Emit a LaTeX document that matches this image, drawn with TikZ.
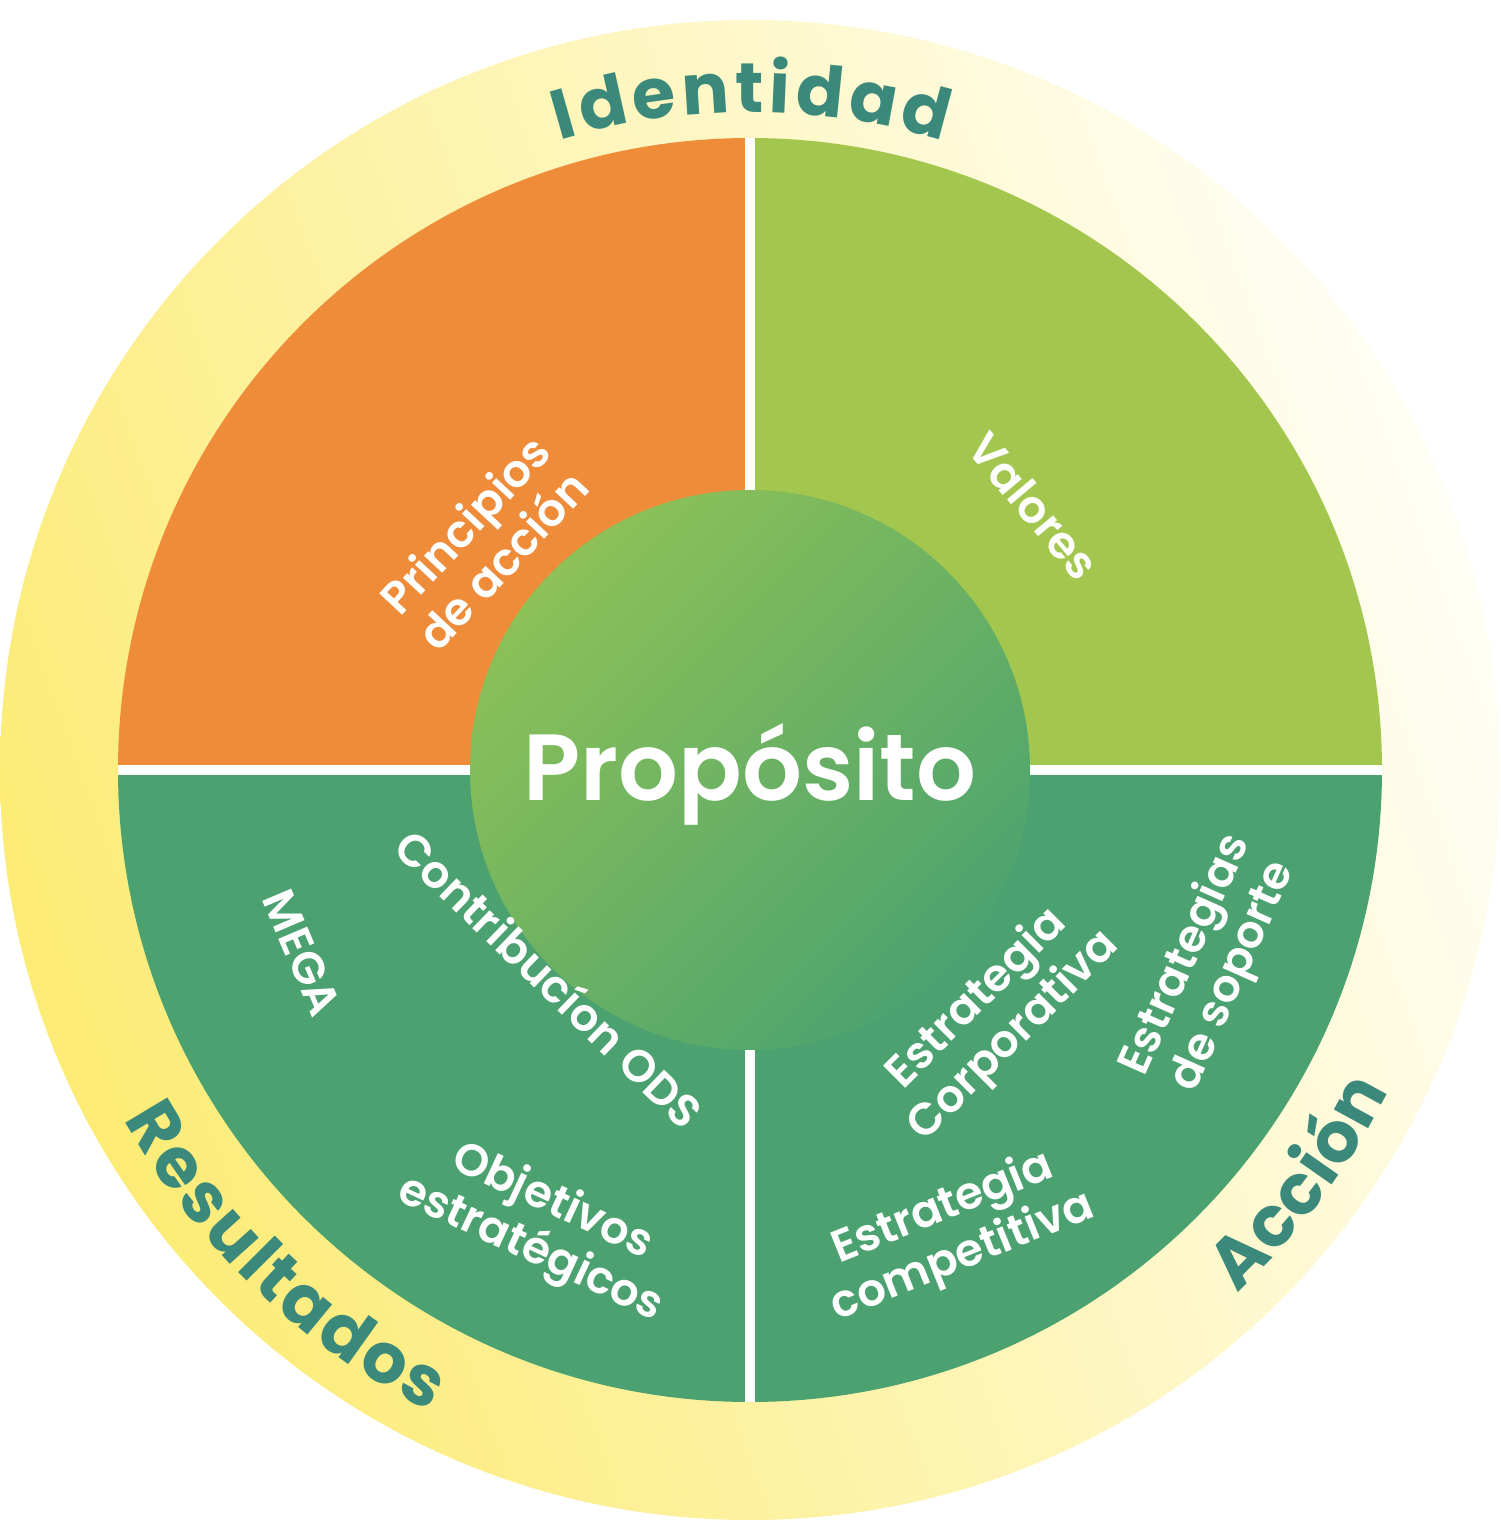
\documentclass[tikz,border=0pt]{standalone}
\usepackage{fontspec}
\setmainfont{Poppins}
\newfontfamily\labelfont{Poppins SemiBold}
\newfontfamily\ringfont{Poppins Bold}
\newfontfamily\centrefont{Poppins SemiBold}
\usetikzlibrary{decorations.text}
\definecolor{orangeq}{HTML}{EE8C3A}
\definecolor{limeq}{HTML}{A3C74E}
\definecolor{greenq}{HTML}{4BA270}
\definecolor{tealtext}{HTML}{3B897A}
\definecolor{centretop}{HTML}{8DC157}
\definecolor{centrebot}{HTML}{4CA36F}
\definecolor{ringyellow}{HTML}{FCEB74}
\definecolor{ringwhite}{HTML}{FFFEF6}
\newcommand{\ringsize}{\fontsize{70}{80}\selectfont}

\begin{document}
\begin{tikzpicture}[x=1pt, y=1pt,
    quarter/.style={text=white, align=center, font=\labelfont\fontsize{45}{52}\selectfont},
    ringlabel/.style={decorate, decoration={text along path, text align=fit to path,
        text color=tealtext, text={|\ringfont\ringsize|#1}}}]
    \useasboundingbox (-750,-756) rectangle (750,770);
    \fill[white] (-750,-756) rectangle (750,770);
    % Outer ring
    \shade[left color=ringyellow, right color=ringwhite, shading angle=110] (0,0) circle[radius=750];
    % Quadrants
    \fill[orangeq] (0,0) -- (180:632) arc[start angle=180, end angle=90, radius=632] -- cycle;
    \fill[limeq] (0,0) -- (90:632) arc[start angle=90, end angle=0, radius=632] -- cycle;
    \fill[greenq] (0,0) -- (0:632) arc[start angle=0, end angle=-180, radius=632] -- cycle;
    \draw[white, line width=10] (0,632) -- (0,-632);
    \draw[white, line width=10] (-632,0) -- (632,0);
    % Centre
    \shade[top color=centretop, bottom color=centrebot, shading angle=45] (0,0) circle[radius=280];
    \node[text=white, font=\centrefont\fontsize{94}{100}\selectfont, anchor=base] (proposito) at (0,-30) {Propósito};
    %
    % Quadrant labels:
    \node[quarter, rotate=47] (principios) at (-267,228) {Principios\\de acción};
    \node[quarter, rotate=-50] (valores) at (284,264) {Valores};
    \node[quarter, rotate=-67] (mega) at (-448,-183) {MEGA};
    \node[quarter, rotate=-44] (ods) at (-200,-208) {Contribucíon ODS};
    \node[quarter, rotate=-25] (objetivos) at (-209,-456) {Objetivos\\estratégicos};
    \node[quarter, rotate=45] (corporativa) at (246,-248) {Estrategia\\Corporativa};
    \node[quarter, rotate=66] (soporte) at (460,-196) {Estrategias\\de soporte};
    \node[quarter, rotate=22] (competitiva) at (203,-463) {Estrategia\\competitiva};
    %
    % Ring titles:
    \path[ringlabel=Identidad] (106.8:658) arc[start angle=106.8, end angle=72.9, radius=658];
    \path[ringlabel=Resultados] (209.2:717) arc[start angle=209.2, end angle=243.5, radius=717];
    \path[ringlabel=Acción] (313:715) arc[start angle=313, end angle=333.3, radius=715];
\end{tikzpicture}
\end{document}
